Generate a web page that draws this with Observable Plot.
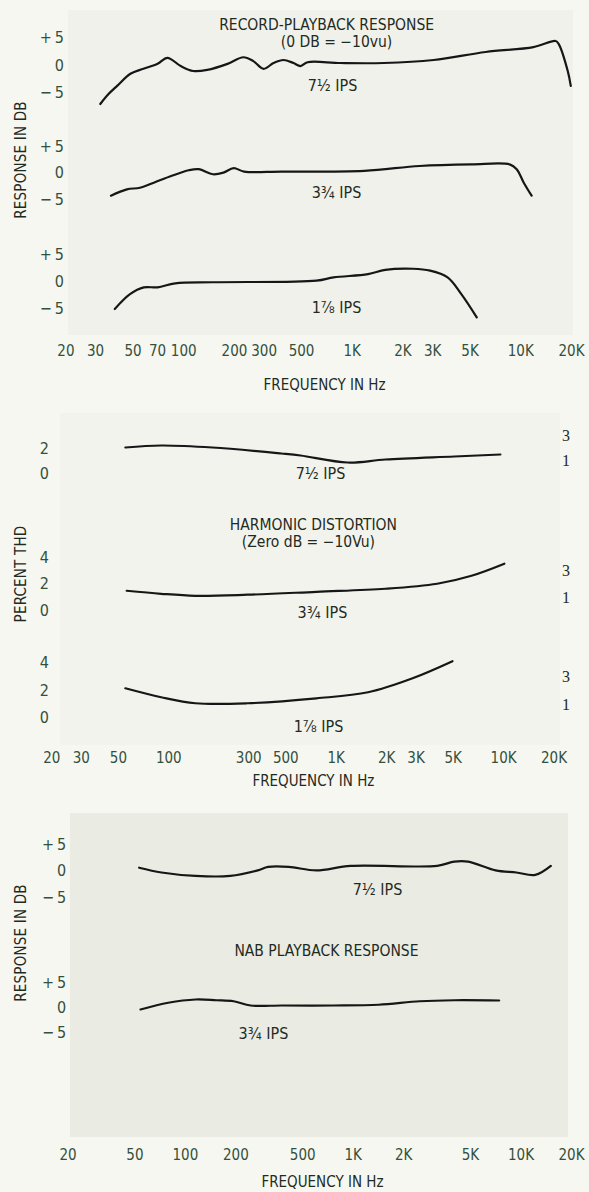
<!DOCTYPE html>
<html>
<head>
<meta charset="utf-8">
<script src="https://cdn.jsdelivr.net/npm/d3@7"></script>
<script src="https://cdn.jsdelivr.net/npm/@observablehq/plot@0.6"></script>
<style>
  html, body { margin: 0; padding: 0; background: #f7f7f2; }
  #chart { position: relative; width: 589px; height: 1192px; overflow: hidden; background: #f7f7f2; }
  #chart svg { position: absolute; left: 0; overflow: visible; }
  .bg { position: absolute; }
  .ytitle { position: absolute; white-space: nowrap; transform: translate(-50%, -50%) rotate(-90deg);
            font-family: "Liberation Sans Narrow", "Arial Narrow", "DejaVu Sans Condensed", "Liberation Sans", sans-serif;
            font-size: 15px; color: #1f2b22; letter-spacing: 0.2px; }
</style>
</head>
<body>
<div id="chart"></div>
<script>
// ---------------- DATA ----------------
// tick values
const xTicksRecord = [20, 30, 50, 70, 100, 200, 300, 500, 1000, 2000, 3000, 5000, 10000, 20000];
const xTicksThd = [20, 30, 50, 100, 300, 500, 1000, 2000, 3000, 5000, 10000, 20000];
const xTicksNab = [20, 50, 100, 200, 500, 1000, 2000, 5000, 10000, 20000];
const dbTicks = [-5, 0, 5];
const thdTicksTop = [0, 2];
const thdTicks = [0, 2, 4];
const thdRightTicks = [1, 3];

// Record-playback response (dB)
const rp75Hz = [32, 35.8, 40.3, 48.3, 57.7, 70, 80, 96, 114, 138, 182, 226, 259, 298, 341, 391, 448, 493, 543, 853, 1540, 3040, 6190, 11900, 16100, 16800, 19000, 19800];
const rp75Db = [-7.0, -5.2, -3.7, -1.5, -0.6, 0.3, 1.4, -0.1, -1.0, -0.8, 0.3, 1.5, 0.8, -0.6, 0.45, 1.0, 0.45, -0.1, 0.6, 0.45, 0.45, 1.0, 2.45, 3.35, 4.45, 3.9, -1.0, -3.7];
const rp375Hz = [37, 46, 55, 67, 85, 107, 123, 149, 172, 198, 228, 381, 1180, 2510, 5100, 8600, 9460, 10400, 11600];
const rp375Db = [-4.3, -3.1, -2.8, -1.8, -0.55, 0.5, 0.7, -0.25, 0.05, 0.9, 0.25, 0.25, 0.4, 1.3, 1.6, 1.6, 0.7, -1.8, -4.3];
const rp178Hz = [39, 48, 58, 70, 89, 149, 614, 775, 1240, 1570, 2290, 2900, 3680, 4440, 5480];
const rp178Db = [-5.05, -2.3, -1.05, -1.05, -0.3, -0.1, 0.2, 0.8, 1.4, 2.2, 2.4, 2.05, 0.8, -2.3, -6.6];

// Harmonic distortion (percent THD)
const thd75Hz = [55, 90, 182, 471, 612, 1170, 1970, 5080, 9570];
const thd75Pct = [2.08, 2.24, 2.08, 1.6, 1.44, 0.88, 1.12, 1.36, 1.52];
const thd375Hz = [56, 90, 144, 295, 762, 1970, 4010, 6430, 10100];
const thd375Pct = [1.51, 1.28, 1.13, 1.21, 1.43, 1.66, 2.04, 2.64, 3.55];
const thd178Hz = [55, 90, 144, 295, 762, 1550, 2860, 4950];
const thd178Pct = [2.18, 1.53, 1.09, 1.09, 1.45, 1.89, 2.91, 4.15];

// NAB playback response (dB)
const nab75Hz = [53, 72, 115, 185, 270, 311, 413, 604, 968, 3165, 4007, 4842, 7064, 9388, 12170, 15060];
const nab75Db = [0.6, -0.3, -0.95, -0.95, 0.1, 0.75, 0.75, 0.1, 0.95, 0.95, 1.75, 1.75, 0.1, -0.3, -0.75, 0.95];
const nab375Hz = [54, 79, 115, 153, 194, 245, 376, 764, 1416, 2494, 4007, 7413];
const nab375Db = [-0.4, 0.95, 1.6, 1.45, 1.25, 0.4, 0.4, 0.4, 0.55, 1.25, 1.45, 1.4];

// text annotations (anchored in data units: Hz, value)
const speedNames = ["7½ IPS", "3¾ IPS", "1⅞ IPS"];
const rpTitles = ["RECORD-PLAYBACK RESPONSE", "(0 DB = −10vu)"];
const rpTitleHz = [705, 807];
const rpTitleDb = [7.4, 4.3];
const rpSpeedHz = [764, 807, 807];
const rpSpeedDb = [-3.7, -3.8, -4.8];
const thdTitles = ["HARMONIC DISTORTION", "(Zero dB = −10Vu)"];
const thdTitleHz = [731, 682];
const thdTitlePct = [6.5, 5.2];
const thdSpeedHz = [806, 828, 784];
const thdSpeedPct = [0, -0.15, -0.65];
const nabTitle = ["NAB PLAYBACK RESPONSE"];
const nabTitleHz = [693];
const nabTitleDb = [-15.1];
const nabSpeedHz = [1396, 292];
const nabSpeedDb = [-3.6, -5.2];
const axisTitles = ["RESPONSE IN DB", "PERCENT THD", "RESPONSE IN DB"];
const freqTitle = "FREQUENCY IN Hz";
const freqTitleHz = [685, 731, 656];

// ---------------- DRAWING ----------------
const FONT = '"Liberation Sans Narrow", "Arial Narrow", "DejaVu Sans Condensed", "Liberation Sans", sans-serif';
const SERIF = '"Liberation Serif", "DejaVu Serif", serif';
const INK = "#1f2b22";
const TICK = "#33503b";
const LINE = "#161616";
const chart = document.getElementById("chart");

const zip = (xs, ys) => xs.map((x, i) => ({x, y: ys[i]}));
const notes = (xs, ys, ts) => xs.map((x, i) => ({x, y: ys[i], t: ts[i]}));
const dbFmt = d => d > 0 ? "+\u2009" + d : d < 0 ? "\u2212\u2009" + (-d) : "0";
const hzFmt = d => d >= 1000 ? (d / 1000) + "K" : String(d);

function addBg(left, top, w, h, color) {
  const d = document.createElement("div");
  d.className = "bg";
  Object.assign(d.style, {left: left + "px", top: top + "px", width: w + "px", height: h + "px", background: color});
  chart.appendChild(d);
}
function addYTitle(text, cx, cy) {
  const d = document.createElement("div");
  d.className = "ytitle";
  d.textContent = text;
  d.style.left = cx + "px";
  d.style.top = cy + "px";
  chart.appendChild(d);
}

// one row of a panel: its own y scale, shared log frequency scale
function row({zeroY, ppu, domain, mL, mR, mB = 0, marks}) {
  const frameH = (domain[1] - domain[0]) * ppu;
  const svg = Plot.plot({
    width: 589,
    height: frameH + mB,
    marginTop: 0,
    marginBottom: mB,
    marginLeft: mL,
    marginRight: mR,
    x: {type: "log", domain: [20, 20000], axis: null},
    y: {domain, axis: null},
    marks
  });
  svg.style.background = "transparent";
  svg.style.overflow = "visible";
  svg.style.fontFamily = FONT;
  svg.style.top = (zeroY - domain[1] * ppu) + "px";
  chart.appendChild(svg);
}

const line = data => Plot.line(data, {x: "x", y: "y", curve: "catmull-rom", stroke: LINE, strokeWidth: 2.2, strokeLinejoin: "round", strokeLinecap: "round"});
const label = (data, size = 16) => Plot.text(data, {x: "x", y: "y", text: "t", fontSize: size, fill: INK, fontFamily: FONT});
const leftDb = pad => Plot.axisY(dbTicks, {anchor: "left", label: null, tickSize: 0, tickPadding: pad, tickFormat: dbFmt, fontSize: 16, fill: TICK});
const leftPct = ticks => Plot.axisY(ticks, {anchor: "left", label: null, tickSize: 0, tickPadding: 3, tickFormat: d => String(d), fontSize: 16, fill: TICK});
const rightPct = () => Plot.axisY(thdRightTicks, {anchor: "right", label: null, tickSize: 0, tickPadding: 8, tickFormat: d => String(d), fontSize: 16, fill: INK, fontFamily: SERIF});
// frequency tick labels and axis title, placed below the frame through the x scale
const xLabels = (ticks, dy, titleHz, titleDy) => [
  Plot.text(ticks, {x: d => d, text: hzFmt, frameAnchor: "bottom", lineAnchor: "middle", dy, fontSize: 15, fill: TICK, fontFamily: FONT}),
  Plot.text([freqTitle], {x: () => titleHz, text: d => d, frameAnchor: "bottom", lineAnchor: "middle", dy: titleDy, fontSize: 15, fill: INK, fontFamily: FONT})
];

// paper backgrounds
addBg(68, 10, 505, 325, "#f1f1eb");
addBg(60, 413, 500, 332, "#f3f3ed");
addBg(70, 813, 498, 324, "#eaebe3");

// ---- Panel 1: record-playback response ----
const P1 = {mL: 65.4, mR: 589 - 571};
row({...P1, zeroY: 64.5, ppu: 5.5, domain: [-8, 8], marks: [
  leftDb(2), line(zip(rp75Hz, rp75Db)),
  label(notes(rpTitleHz, rpTitleDb, rpTitles), 15.5),
  label(notes([rpSpeedHz[0]], [rpSpeedDb[0]], [speedNames[0]]))
]});
row({...P1, zeroY: 172, ppu: 5.3, domain: [-8, 8], marks: [
  leftDb(2), line(zip(rp375Hz, rp375Db)),
  label(notes([rpSpeedHz[1]], [rpSpeedDb[1]], [speedNames[1]]))
]});
row({...P1, zeroY: 281, ppu: 5.4, domain: [-8, 8], mB: 75, marks: [
  leftDb(2), line(zip(rp178Hz, rp178Db)),
  label(notes([rpSpeedHz[2]], [rpSpeedDb[2]], [speedNames[2]])),
  ...xLabels(xTicksRecord, 26, freqTitleHz[0], 60)
]});
addYTitle(axisTitles[0], 21, 160);

// ---- Panel 2: harmonic distortion ----
const P2 = {mL: 51.3, mR: 589 - 553.5};
row({...P2, zeroY: 473, ppu: 12.5, domain: [-2, 4], marks: [
  leftPct(thdTicksTop), rightPct(), line(zip(thd75Hz, thd75Pct)),
  label(notes([thdSpeedHz[0]], [thdSpeedPct[0]], [speedNames[0]]))
]});
row({...P2, zeroY: 610, ppu: 13.25, domain: [-2, 5], marks: [
  leftPct(thdTicks), rightPct(), line(zip(thd375Hz, thd375Pct)),
  label(notes(thdTitleHz, thdTitlePct, thdTitles), 15.5),
  label(notes([thdSpeedHz[1]], [thdSpeedPct[1]], [speedNames[1]]))
]});
row({...P2, zeroY: 718, ppu: 13.75, domain: [-2, 5], mB: 48, marks: [
  leftPct(thdTicks), rightPct(), line(zip(thd178Hz, thd178Pct)),
  label(notes([thdSpeedHz[2]], [thdSpeedPct[2]], [speedNames[2]])),
  ...xLabels(xTicksThd, 12.5, freqTitleHz[1], 35)
]});
addYTitle(axisTitles[1], 21, 574);

// ---- Panel 3: NAB playback response ----
const P3 = {mL: 67.6, mR: 589 - 571};
row({...P3, zeroY: 870, ppu: 5.3, domain: [-8, 8], marks: [
  leftDb(2), line(zip(nab75Hz, nab75Db)),
  label(notes([nabSpeedHz[0]], [nabSpeedDb[0]], [speedNames[0]])),
  label(notes(nabTitleHz, nabTitleDb, nabTitle), 15.5)
]});
row({...P3, zeroY: 1007, ppu: 5.0, domain: [-26, 8], mB: 58, marks: [
  leftDb(2), line(zip(nab375Hz, nab375Db)),
  label(notes([nabSpeedHz[1]], [nabSpeedDb[1]], [speedNames[1]])),
  ...xLabels(xTicksNab, 18, freqTitleHz[2], 45)
]});
addYTitle(axisTitles[2], 21, 943);
</script>
</body>
</html>
